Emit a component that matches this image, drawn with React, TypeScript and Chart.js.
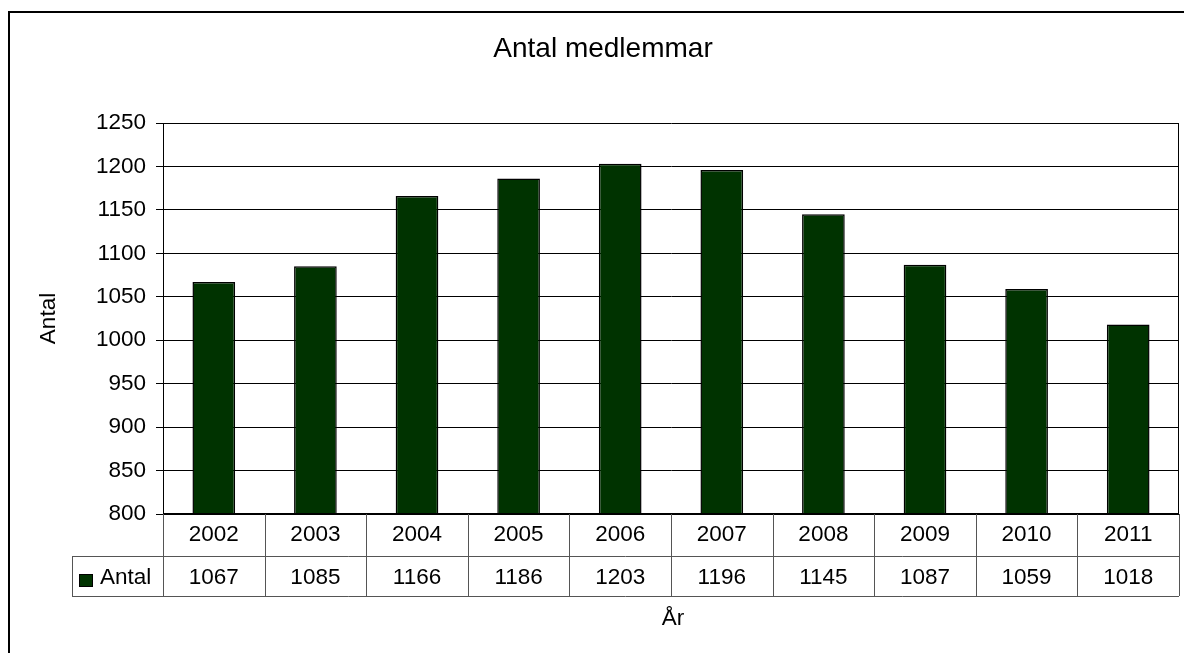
import React, { useEffect, useRef } from 'react';
import { Chart, registerables } from 'chart.js';

Chart.register(...registerables);

const years = ['2002', '2003', '2004', '2005', '2006', '2007', '2008', '2009', '2010', '2011'];
const antal = [1067, 1085, 1166, 1186, 1203, 1196, 1145, 1087, 1059, 1018];
const yMin = 800;
const yMax = 1250;
const yStep = 50;
const chartTitle = 'Antal medlemmar';
const yTitle = 'Antal';
const xTitle = 'År';
const seriesName = 'Antal';

const FONT = '"Liberation Sans", Arial, sans-serif';
const BAR = '#003300';

const decorPlugin = {
  id: 'decor',
  afterDraw(chart: any) {
    const ctx = chart.ctx as CanvasRenderingContext2D;
    const area = chart.chartArea;
    const xs = chart.scales.x;
    ctx.save();

    // outer border
    ctx.strokeStyle = '#000';
    ctx.lineWidth = 2;
    ctx.strokeRect(9, 12, 3000, 3000);

    // title
    ctx.fillStyle = '#000';
    ctx.font = `28px ${FONT}`;
    ctx.textAlign = 'center';
    ctx.textBaseline = 'alphabetic';
    ctx.fillText(chartTitle, 603, 57);

    // y title
    ctx.save();
    ctx.translate(55, 318.5);
    ctx.rotate(-Math.PI / 2);
    ctx.font = `22.5px ${FONT}`;
    ctx.fillText(yTitle, 0, 0);
    ctx.restore();

    // plot frame
    ctx.strokeStyle = '#000';
    ctx.lineWidth = 1;
    ctx.beginPath();
    ctx.moveTo(Math.round(area.right) - 0.5, area.top);
    ctx.lineTo(Math.round(area.right) - 0.5, area.bottom);
    ctx.stroke();
    ctx.lineWidth = 2;
    ctx.beginPath();
    ctx.moveTo(area.left, Math.round(area.bottom));
    ctx.lineTo(area.right, Math.round(area.bottom));
    ctx.stroke();

    // data table
    const n = years.length;
    const colW = (area.right - area.left) / n;
    const row1Top = Math.round(area.bottom);
    const row1Bot = row1Top + 42;
    const row2Bot = row1Bot + 40;
    const tableLeft = 72;
    ctx.strokeStyle = '#555';
    ctx.lineWidth = 1;
    ctx.beginPath();
    for (let i = 0; i <= n; i++) {
      const x = Math.round(area.left + i * colW) + 0.5;
      ctx.moveTo(x, row1Top);
      ctx.lineTo(x, row2Bot);
    }
    ctx.moveTo(tableLeft + 0.5, row1Bot + 0.5);
    ctx.lineTo(tableLeft + 0.5, row2Bot + 0.5);
    ctx.moveTo(tableLeft, row1Bot + 0.5);
    ctx.lineTo(area.right, row1Bot + 0.5);
    ctx.moveTo(tableLeft, row2Bot + 0.5);
    ctx.lineTo(area.right, row2Bot + 0.5);
    ctx.stroke();

    ctx.fillStyle = '#000';
    ctx.font = `22.5px ${FONT}`;
    ctx.textAlign = 'center';
    ctx.textBaseline = 'alphabetic';
    for (let i = 0; i < n; i++) {
      const cx = xs.getPixelForValue(i);
      ctx.fillText(years[i], cx, row1Top + 27);
      ctx.fillText(String(antal[i]), cx, row1Bot + 28);
    }

    // legend key
    ctx.fillStyle = BAR;
    ctx.fillRect(79, 574, 14, 13);
    ctx.strokeStyle = '#000';
    ctx.lineWidth = 1;
    ctx.strokeRect(79.5, 574.5, 13, 12);
    ctx.fillStyle = '#000';
    ctx.textAlign = 'left';
    ctx.fillText(seriesName, 100, row1Bot + 28);

    // x title
    ctx.textAlign = 'center';
    ctx.fillText(xTitle, 673, 625);

    ctx.restore();
  },
};

export default function App() {
  const ref = useRef<HTMLCanvasElement>(null);

  useEffect(() => {
    if (!ref.current) return;
    const chart = new Chart(ref.current, {
      type: 'bar',
      data: {
        labels: years,
        datasets: [
          {
            label: seriesName,
            data: antal,
            backgroundColor: BAR,
            borderColor: '#000',
            borderWidth: 1.5,
            categoryPercentage: 1,
            barPercentage: 0.42,
          },
        ],
      },
      options: {
        animation: false,
        responsive: false,
        maintainAspectRatio: false,
        layout: { padding: { left: 63, top: 123, right: 5, bottom: 139 } },
        plugins: {
          legend: { display: false },
          title: { display: false },
          tooltip: { enabled: false },
        },
        scales: {
          x: { display: false },
          y: {
            min: yMin,
            max: yMax,
            afterFit(scale: any) {
              scale.width = 100;
            },
            ticks: {
              stepSize: yStep,
              padding: 10,
              color: '#000',
              font: { family: FONT, size: 22.5 },
              callback: (v: any) => String(v),
            },
            grid: {
              color: '#000',
              lineWidth: 1,
              tickLength: 7,
              drawTicks: true,
            },
            border: { display: true, color: '#000', width: 1 },
          },
        },
      },
      plugins: [decorPlugin],
    });
    return () => chart.destroy();
  }, []);

  return (
    <div style={{ position: 'absolute', left: 0, top: 0, width: 1184, height: 653, background: '#fff' }}>
      <canvas ref={ref} width={1184} height={653} style={{ display: 'block', width: 1184, height: 653 }} />
    </div>
  );
}
